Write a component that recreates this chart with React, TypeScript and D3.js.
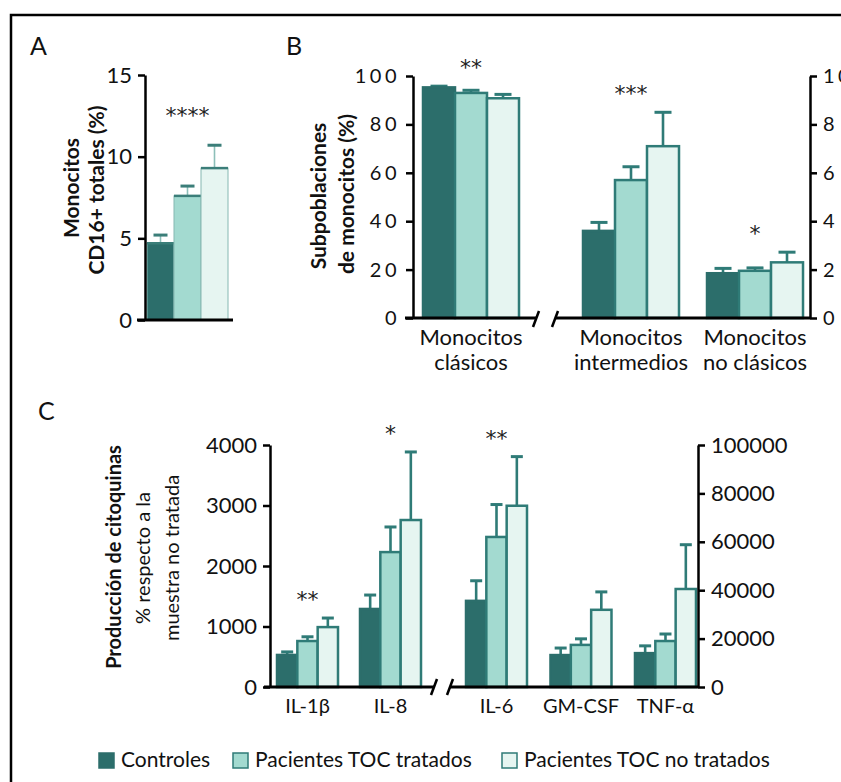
import { useRef, useEffect } from 'react';
import * as d3 from 'd3';

const series = ['Controles', 'Pacientes TOC tratados', 'Pacientes TOC no tratados'];
const fills = ['#2c6e6b', '#a3dad0', '#e6f5f1'];
const edge = '#2f7b77';
const FONT = 'Lato, "Open Sans", sans-serif';

// A: CD16+ monocytes
const cd16Cats = ['CD16+'];
const cd16Mean = [[4.7, 7.6, 9.3]];
const cd16Err = [[0.5, 0.6, 1.4]];
const cd16Sig = ['****'];
const cd16Ticks = [0, 5, 10, 15];

// B: monocyte subsets (clásicos on left axis, the rest on right axis)
const subsetCats = ['Monocitos clásicos', 'Monocitos intermedios', 'Monocitos no clásicos'];
const subsetLines = [['Monocitos', 'clásicos'], ['Monocitos', 'intermedios'], ['Monocitos', 'no clásicos']];
const subsetMean = [[95.3, 93.0, 90.8], [3.6, 5.7, 7.1], [1.85, 1.95, 2.3]];
const subsetErr = [[0.5, 1.1, 1.6], [0.35, 0.55, 1.4], [0.2, 0.12, 0.42]];
const subsetAxis = ['left', 'right', 'right'];
const subsetSig = ['**', '***', '*'];
const subsetLeftTicks = [0, 20, 40, 60, 80, 100];
const subsetRightTicks = [0, 2, 4, 6, 8, 10];

// C: cytokines
const cytoCats = ['IL-1β', 'IL-8', 'IL-6', 'GM-CSF', 'TNF-α'];
const cytoMean = [[530, 760, 990], [1290, 2230, 2760], [35600, 62000, 74900], [13200, 17400, 31900], [14000, 19000, 40500]];
const cytoErr = [[50, 70, 150], [230, 415, 1125], [8300, 13400, 20300], [2900, 2500, 7400], [3000, 2900, 18300]];
const cytoAxis = ['left', 'left', 'right', 'right', 'right'];
const cytoSig = ['**', '*', '**', '', ''];
const cytoLeftTicks = [0, 1000, 2000, 3000, 4000];
const cytoRightTicks = [0, 20000, 40000, 60000, 80000, 100000];

type Sel = d3.Selection<SVGGElement, unknown, null, undefined>;

function yAxis(g: Sel, scale: d3.ScaleLinear<number, number>, ticks: number[], x: number,
  side: 'left' | 'right', fontSize: number, spacing = 0) {
  const axis = (side === 'left' ? d3.axisLeft(scale) : d3.axisRight(scale))
    .tickValues(ticks).tickSize(7).tickSizeOuter(0).tickPadding(6)
    .tickFormat((d) => String(d));
  const a = g.append('g').attr('transform', `translate(${x},0)`).call(axis as any);
  a.select('.domain').attr('stroke', '#000').attr('stroke-width', 2.5);
  a.selectAll('.tick line').attr('stroke', '#000').attr('stroke-width', 2.5);
  a.selectAll('.tick text')
    .attr('font-family', FONT).attr('font-size', fontSize).attr('fill', '#111')
    .attr('letter-spacing', spacing);
}

function bars(g: Sel, cats: string[], means: number[][], errs: number[][],
  xGroup: (c: string) => number | undefined, bw: number,
  yFor: (i: number) => d3.ScaleLinear<number, number>, light: boolean, capW: number,
  sig: string[], sigGap: number) {
  const xs = d3.scaleBand().domain(series).range([0, bw]);
  cats.forEach((c, ci) => {
    const y = yFor(ci);
    const gx = xGroup(c) ?? 0;
    series.forEach((s, si) => {
      const x0 = gx + (xs(s) ?? 0);
      const w = xs.bandwidth();
      const v = means[ci][si];
      const top = y(means[ci][si] + errs[ci][si]);
      const cx = x0 + w / 2;
      g.append('line').attr('x1', cx).attr('x2', cx).attr('y1', y(v)).attr('y2', top)
        .attr('stroke', light ? '#8dbfb9' : edge).attr('stroke-width', light ? 1.6 : 2.6);
      g.append('line').attr('x1', cx - capW / 2).attr('x2', cx + capW / 2)
        .attr('y1', top).attr('y2', top)
        .attr('stroke', light ? '#3b7e79' : edge).attr('stroke-width', 3);
      if (light) {
        g.append('rect').attr('x', x0).attr('y', y(v)).attr('width', w).attr('height', y(0) - y(v))
          .attr('fill', fills[si]).attr('stroke', '#86b8b2').attr('stroke-width', 1);
        g.append('line').attr('x1', x0).attr('x2', x0 + w).attr('y1', y(v)).attr('y2', y(v))
          .attr('stroke', '#3b7e79').attr('stroke-width', 2.5);
      } else {
        g.append('rect').attr('x', x0).attr('y', y(v)).attr('width', w).attr('height', y(0) - y(v))
          .attr('fill', fills[si]).attr('stroke', si === 0 ? fills[0] : edge)
          .attr('stroke-width', 2.5);
      }
    });
    if (sig[ci]) {
      const hi = d3.max(series.map((_, si) => means[ci][si] + errs[ci][si])) ?? 0;
      // asterisks: DejaVu's glyph is closer in size to the original
      g.append('text').attr('x', gx + bw / 2).attr('y', y(hi) - sigGap + 13)
        .attr('text-anchor', 'middle').attr('font-family', '"DejaVu Sans", sans-serif')
        .attr('font-size', 22).attr('fill', '#222').text(sig[ci]);
    }
  });
}

function baseline(g: Sel, x0: number, x1: number, y: number) {
  g.append('line').attr('x1', x0).attr('x2', x1).attr('y1', y).attr('y2', y)
    .attr('stroke', '#000').attr('stroke-width', 3);
}

function slash(g: Sel, x: number, y: number) {
  g.append('line').attr('x1', x - 3).attr('x2', x + 3).attr('y1', y + 8).attr('y2', y - 8)
    .attr('stroke', '#000').attr('stroke-width', 2.5);
}

function rotLabel(g: Sel, x: number, y: number, text: string, bold: boolean, size = 20) {
  g.append('text').attr('transform', `translate(${x},${y}) rotate(-90)`)
    .attr('text-anchor', 'middle').attr('font-family', FONT).attr('font-size', size)
    .attr('font-weight', bold ? 700 : 400).attr('fill', '#111').text(text);
}

function panelTag(g: Sel, x: number, y: number, t: string) {
  g.append('text').attr('x', x).attr('y', y).attr('font-family', FONT)
    .attr('font-size', 25).attr('fill', '#111').text(t);
}

export default function App() {
  const ref = useRef<SVGSVGElement>(null);

  useEffect(() => {
    if (!ref.current) return;
    const svg = d3.select(ref.current);
    svg.selectAll('*').remove();
    const g = svg.append('g') as unknown as Sel;

    // frame
    g.append('path').attr('d', 'M11,790 V15 H850').attr('fill', 'none')
      .attr('stroke', '#000').attr('stroke-width', 2.5);

    // ---- A ----
    panelTag(g, 30, 55, 'A');
    const yA = d3.scaleLinear().domain([0, 15]).range([320, 75]);
    const xA = d3.scaleBand().domain(cd16Cats).range([147, 228]);
    bars(g, cd16Cats, cd16Mean, cd16Err, (c) => xA(c), xA.bandwidth(), () => yA, true, 14, cd16Sig, 35);
    yAxis(g, yA, cd16Ticks, 145, 'left', 22);
    baseline(g, 137, 233, yA(0));
    rotLabel(g, 79, 188, 'Monocitos', true, 21);
    rotLabel(g, 104, 190, 'CD16+ totales (%)', true, 21);

    // ---- B ----
    panelTag(g, 286, 55, 'B');
    const yBL = d3.scaleLinear().domain([0, 100]).range([318, 76]);
    const yBR = d3.scaleLinear().domain([0, 10]).range([318, 76]);
    const xB1 = d3.scaleBand().domain(subsetCats.slice(0, 1)).range([423, 519]);
    const xB2 = d3.scaleBand().domain(subsetCats.slice(1)).range([583, 803]).paddingInner(0.226);
    const xB = (c: string) => xB1(c) ?? xB2(c);
    bars(g, subsetCats, subsetMean, subsetErr, xB, xB1.bandwidth(),
      (i) => (subsetAxis[i] === 'left' ? yBL : yBR), false, 17, subsetSig, 24);
    yAxis(g, yBL, subsetLeftTicks, 413, 'left', 20, 3.5);
    yAxis(g, yBR, subsetRightTicks, 810, 'right', 20, 3.5);
    baseline(g, 405, 537, yBL(0));
    baseline(g, 555, 810, yBL(0));
    slash(g, 536, yBL(0) + 1);
    slash(g, 555, yBL(0) + 1);
    subsetCats.forEach((c, i) => {
      const cx = (xB(c) ?? 0) + xB1.bandwidth() / 2;
      subsetLines[i].forEach((ln, li) => {
        g.append('text').attr('x', cx).attr('y', 345 + li * 25).attr('text-anchor', 'middle')
          .attr('font-family', FONT).attr('font-size', 22).attr('fill', '#111').text(ln);
      });
    });
    rotLabel(g, 326, 196, 'Subpoblaciones', true, 21);
    rotLabel(g, 354, 194, 'de monocitos (%)', true, 21);

    // ---- C ----
    panelTag(g, 38, 420, 'C');
    const yCL = d3.scaleLinear().domain([0, 4000]).range([687, 445]);
    const yCR = d3.scaleLinear().domain([0, 100000]).range([687, 445]);
    const xC1 = d3.scaleBand().domain(cytoCats.slice(0, 2)).range([277, 421]).paddingInner(0.265);
    const xC2 = d3.scaleBand().domain(cytoCats.slice(2)).range([466, 697]).paddingInner(0.266);
    const xC = (c: string) => xC1(c) ?? xC2(c);
    bars(g, cytoCats, cytoMean, cytoErr, xC, xC1.bandwidth(),
      (i) => (cytoAxis[i] === 'left' ? yCL : yCR), false, 12, cytoSig, 24);
    yAxis(g, yCL, cytoLeftTicks, 270, 'left', 22);
    yAxis(g, yCR, cytoRightTicks, 698, 'right', 22);
    baseline(g, 264, 434, yCL(0));
    baseline(g, 450, 698, yCL(0));
    slash(g, 434, yCL(0));
    slash(g, 450, yCL(0));
    cytoCats.forEach((c) => {
      const cx = (xC(c) ?? 0) + xC1.bandwidth() / 2;
      g.append('text').attr('x', cx).attr('y', 713).attr('text-anchor', 'middle')
        .attr('font-family', FONT).attr('font-size', 20).attr('fill', '#111').text(c);
    });
    rotLabel(g, 121, 557, 'Producción de citoquinas', true);
    rotLabel(g, 150, 558, '% respecto a la', false);
    rotLabel(g, 179, 558, 'muestra no tratada', false);

    // ---- legend ----
    const legX = [99, 233, 502];
    series.forEach((s, i) => {
      g.append('rect').attr('x', legX[i]).attr('y', 753).attr('width', 15).attr('height', 15)
        .attr('fill', fills[i]).attr('stroke', i === 0 ? fills[0] : edge).attr('stroke-width', 1.5);
      g.append('text').attr('x', legX[i] + 22).attr('y', 767).attr('font-family', FONT)
        .attr('font-size', 21).attr('fill', '#111').text(s);
    });
  }, []);

  return (
    <svg ref={ref} width={841} height={782}
      style={{ position: 'absolute', left: 0, top: 0, background: '#fff' }} />
  );
}
